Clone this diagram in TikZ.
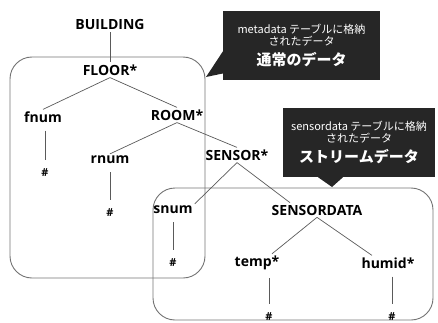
\documentclass[tikz,border=0pt]{standalone}
\usepackage{fontspec}
\setmainfont{Open Sans}
\newfontfamily\jpfont{Noto Sans CJK JP}
\usepackage{tikz}
\usetikzlibrary{
  arrows.meta,
  positioning
}
\definecolor{treegray}{RGB}{90,90,90}
\definecolor{boxgray}{RGB}{115,115,115}
\definecolor{calloutdark}{RGB}{38,38,38}
\tikzset{
  treeLabel/.style={
    font=\fontsize{14}{16}\selectfont\bfseries,
    inner sep=2pt
  },
  leafMark/.style={
    font=\fontsize{11}{12}\selectfont\bfseries,
    inner sep=2pt
  },
  treeEdge/.style={
    draw=treegray,
    line width=0.7pt
  },
  leafEdge/.style={
    draw=treegray,
    line width=0.7pt,
    shorten <=6pt,
    shorten >=7pt
  },
  groupBox/.style={
    draw=boxgray,
    line width=0.9pt,
    rounded corners=22pt
  },
  calloutBox/.style={
    rectangle,
    fill=calloutdark,
    text=white,
    align=center,
    font=\jpfont\fontsize{11}{11.5}\selectfont,
    inner sep=0pt
  },
  calloutTip/.style={
    fill=calloutdark
  }
}

\begin{document}
\begin{tikzpicture}[x=1pt, y=-1pt]
  \useasboundingbox (0,0) rectangle (438,323);

  % groups
  \draw[groupBox] (10,57) rectangle (205,278);
  \draw[groupBox] (153,188) rectangle (433,320);

  % tree
  \node[treeLabel] (building) at (110,25) {BUILDING};
  \node[treeLabel] (floor) at (110,70) {FLOOR*};
  \node[treeLabel] (fnum) at (43,117) {fnum};
  \node[treeLabel] (room) at (177,115) {ROOM*};
  \node[treeLabel] (rnum) at (110,160) {rnum};
  \node[treeLabel] (sensor) at (237,155) {SENSOR*};
  \node[treeLabel] (snum) at (173,210) {snum};
  \node[treeLabel] (sdata) at (317,210) {SENSORDATA};
  \node[treeLabel] (temp) at (257,263) {temp*};
  \node[treeLabel] (humid) at (388,263) {humid*};

  \node[leafMark] (fnumval) at (45,173) {\#};
  \node[leafMark] (rnumval) at (110,213) {\#};
  \node[leafMark] (snumval) at (173,263) {\#};
  \node[leafMark] (tempval) at (269,317) {\#};
  \node[leafMark] (humidval) at (392,317) {\#};

  \draw[treeEdge] (building) -- (floor);
  \draw[treeEdge] (floor.south) -- (fnum.north);
  \draw[treeEdge] (floor.south) -- (room.north);
  \draw[treeEdge] (room.south) -- (rnum.north);
  \draw[treeEdge] (room.south) -- (sensor.north);
  \draw[treeEdge] (sensor.south) -- (snum.north east);
  \draw[treeEdge] (sensor.south) -- ([xshift=-27pt]sdata.north);
  \draw[treeEdge] (sdata.south) -- ([xshift=15pt]temp.north);
  \draw[treeEdge] (sdata.south) -- ([xshift=-16pt]humid.north);

  \draw[leafEdge] (fnum.south -| fnumval.north) -- (fnumval.north);
  \draw[leafEdge] (rnum.south -| rnumval.north) -- (rnumval.north);
  \draw[leafEdge] (snum.south -| snumval.north) -- (snumval.north);
  \draw[leafEdge] (temp.south -| tempval.north) -- (tempval.north);
  \draw[leafEdge] (humid.south -| humidval.north) -- (humidval.north);

  % callouts
  \node[calloutBox, minimum width=157pt, minimum height=69pt]
    (metanote) at (301.5,45.5)
    {metadata テーブルに格納\\されたデータ\\[5pt]
     {\fontsize{15}{17}\selectfont\bfseries 通常のデータ}};
  \coordinate (floortip) at (206,77);
  \fill[calloutTip] ([yshift=-6pt]metanote.west) -- (floortip)
    -- ([yshift=-28pt]metanote.west) -- cycle;

  \node[calloutBox, minimum width=152pt, minimum height=69pt]
    (streamnote) at (359,142.5)
    {sensordata テーブルに格納\\されたデータ\\[5pt]
     {\fontsize{15}{17}\selectfont\bfseries ストリームデータ}};
  \coordinate (datatip) at (332,187);
  \fill[calloutTip] ([xshift=-41pt]streamnote.south) -- (datatip)
    -- ([xshift=-16pt]streamnote.south) -- cycle;
\end{tikzpicture}
\end{document}
